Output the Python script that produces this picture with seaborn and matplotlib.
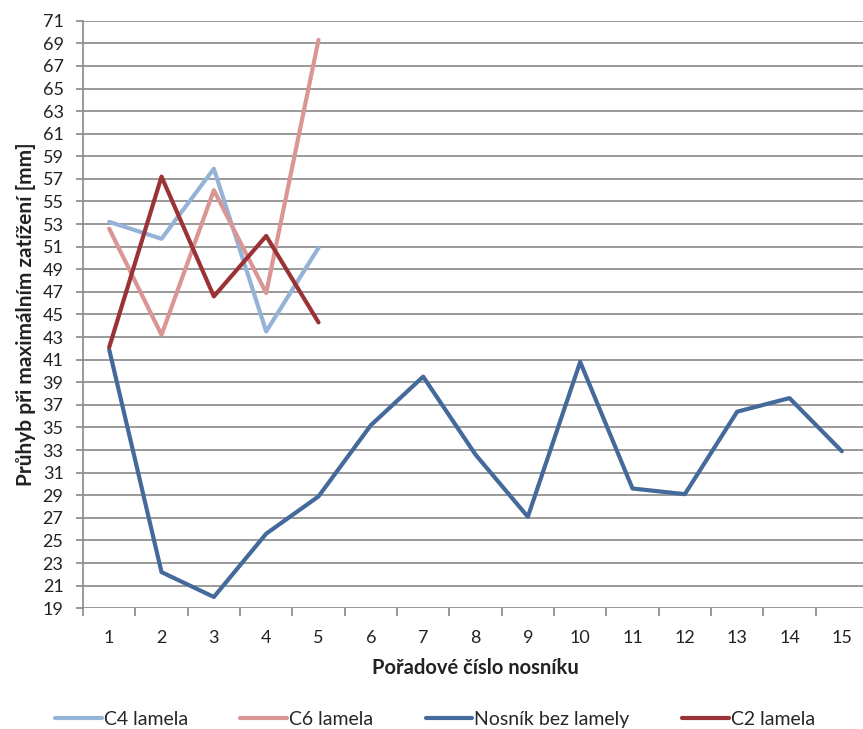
import matplotlib
matplotlib.use("Agg")
import matplotlib.pyplot as plt
import numpy as np
import pandas as pd
import seaborn as sns

# Beam order numbers and measured deflections [mm]
beam_no = list(range(1, 16))
c4_lamela = [53.2, 51.7, 57.9, 43.5, 50.9]
c6_lamela = [52.6, 43.2, 56.0, 46.9, 69.3]
nosnik_bez_lamely = [41.9, 22.2, 20.0, 25.6, 28.9, 35.2, 39.5, 32.6, 27.1,
                     40.8, 29.6, 29.1, 36.4, 37.6, 32.9]
c2_lamela = [42.1, 57.2, 46.6, 51.95, 44.3]

series_names = ["C4 lamela", "C6 lamela", "Nosník bez lamely", "C2 lamela"]
series_values = [c4_lamela, c6_lamela, nosnik_bez_lamely, c2_lamela]
series_colors = ["#95B3D7", "#D99694", "#44699B", "#9B3336"]

y_ticks = list(range(19, 72, 2))
x_label = "Pořadové číslo nosníku"
y_label = "Průhyb při maximálním zatížení [mm]"

rows = []
for name, vals in zip(series_names, series_values):
    for x, v in zip(beam_no, vals):
        rows.append({"beam": x, "value": v, "series": name})
df = pd.DataFrame(rows)

sns.set_theme(style="white")
plt.rcParams["font.family"] = ["Lato", "DejaVu Sans"]

fig = plt.figure(figsize=(8.63, 7.29), dpi=100)
ax = fig.add_axes([0.0962, 0.1656, 0.9096, 0.806])

grid_col = "#8C8C8C"
for yv in y_ticks:
    ax.axhline(yv, color=grid_col, lw=1.25, zorder=0)

sns.lineplot(data=df, x="beam", y="value", hue="series", hue_order=series_names,
             palette=dict(zip(series_names, series_colors)), linewidth=3.0,
             ax=ax, legend=False, sort=False, estimator=None)

ax.set_xlim(0.5, 15.5)
ax.set_ylim(19, 71)
ax.set_yticks(y_ticks)
ax.set_yticklabels([str(t) for t in y_ticks])
ax.set_xticks(beam_no)
ax.set_xticklabels([str(b) for b in beam_no])
ax.set_xticks(np.arange(0.5, 15.6, 1.0), minor=True)

for s in ["top", "right", "bottom"]:
    ax.spines[s].set_visible(False)
ax.spines["left"].set_color(grid_col)
ax.spines["left"].set_linewidth(1.25)

ax.tick_params(axis="y", which="major", left=True, length=5, width=1.25,
               color=grid_col, labelsize=13, labelcolor="#222222", pad=9)
ax.tick_params(axis="x", which="major", bottom=False, labelsize=13,
               labelcolor="#222222", pad=10)
ax.tick_params(axis="x", which="minor", bottom=True, length=5.5, width=1.25,
               color=grid_col)

ax.set_xlabel(x_label, fontsize=14.5, fontweight="bold", color="#222222", labelpad=8)
ax.set_ylabel(y_label, fontsize=15, fontweight="bold", color="#222222", labelpad=5)

handles = [plt.Line2D([0], [0], color=c, lw=3.0) for c in series_colors]
fig.legend(handles, series_names, loc="center", bbox_to_anchor=(0.504, 0.0137),
           ncol=4, frameon=False, fontsize=14, handlelength=2.4,
           handletextpad=0.1, columnspacing=2.7, borderpad=0.1)

fig.savefig("out.png", dpi=100, facecolor="white")
